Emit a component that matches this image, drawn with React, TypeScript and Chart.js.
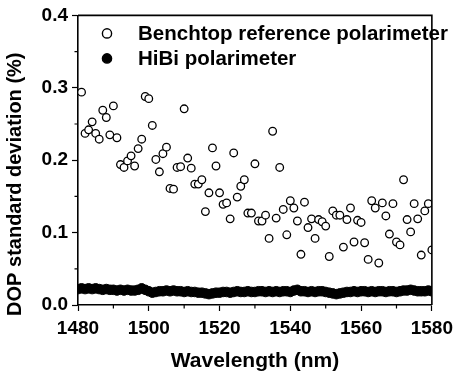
import React, { useEffect, useRef } from "react";
import { Chart, registerables } from "chart.js";

Chart.register(...registerables);

// Benchtop reference polarimeter (open circles)
const BENCH_WL = [
  1481, 1482, 1483, 1484, 1485, 1486, 1487, 1488, 1489, 1490,
  1491, 1492, 1493, 1494, 1495, 1496, 1497, 1498, 1499, 1500,
  1501, 1502, 1503, 1504, 1505, 1506, 1507, 1508, 1509, 1510,
  1511, 1512, 1513, 1514, 1515, 1516, 1517, 1518, 1519, 1520,
  1521, 1522, 1523, 1524, 1525, 1526, 1527, 1528, 1529, 1530,
  1531, 1532, 1533, 1534, 1535, 1536, 1537, 1538, 1539, 1540,
  1541, 1542, 1543, 1544, 1545, 1546, 1547, 1548, 1549, 1550,
  1551, 1552, 1553, 1554, 1555, 1556, 1557, 1558, 1559, 1560,
  1561, 1562, 1563, 1564, 1565, 1566, 1567, 1568, 1569, 1570,
  1571, 1572, 1573, 1574, 1575, 1576, 1577, 1578, 1579, 1580,
];
const BENCH_STD = [
  0.294, 0.237, 0.242, 0.253, 0.237, 0.229, 0.269, 0.259, 0.235, 0.275,
  0.231, 0.194, 0.190, 0.199, 0.206, 0.192, 0.216, 0.229, 0.288, 0.285,
  0.248, 0.201, 0.184, 0.209, 0.218, 0.161, 0.160, 0.190, 0.191, 0.271,
  0.203, 0.189, 0.167, 0.167, 0.173, 0.129, 0.155, 0.217, 0.192, 0.155,
  0.139, 0.141, 0.119, 0.210, 0.149, 0.164, 0.173, 0.127, 0.127, 0.195,
  0.116, 0.116, 0.124, 0.092, 0.240, 0.120, 0.190, 0.132, 0.097, 0.144,
  0.134, 0.116, 0.070, 0.142, 0.107, 0.119, 0.092, 0.118, 0.115, 0.109,
  0.067, 0.130, 0.124, 0.124, 0.080, 0.118, 0.134, 0.087, 0.117, 0.114,
  0.086, 0.063, 0.144, 0.134, 0.058, 0.141, 0.123, 0.098, 0.140, 0.087,
  0.083, 0.173, 0.118, 0.101, 0.140, 0.119, 0.069, 0.130, 0.140, 0.076,
];

// HiBi polarimeter (filled circles)
const HIBI_WL = [
  1480, 1481, 1482, 1483, 1484, 1485, 1486, 1487, 1488, 1489,
  1490, 1491, 1492, 1493, 1494, 1495, 1496, 1497, 1498, 1499,
  1500, 1501, 1502, 1503, 1504, 1505, 1506, 1507, 1508, 1509,
  1510, 1511, 1512, 1513, 1514, 1515, 1516, 1517, 1518, 1519,
  1520, 1521, 1522, 1523, 1524, 1525, 1526, 1527, 1528, 1529,
  1530, 1531, 1532, 1533, 1534, 1535, 1536, 1537, 1538, 1539,
  1540, 1541, 1542, 1543, 1544, 1545, 1546, 1547, 1548, 1549,
  1550, 1551, 1552, 1553, 1554, 1555, 1556, 1557, 1558, 1559,
  1560, 1561, 1562, 1563, 1564, 1565, 1566, 1567, 1568, 1569,
  1570, 1571, 1572, 1573, 1574, 1575, 1576, 1577, 1578, 1579,
  1580,
];
const HIBI_STD = [
  0.022, 0.023, 0.022, 0.023, 0.022, 0.023, 0.022, 0.021, 0.022, 0.021,
  0.021, 0.020, 0.021, 0.020, 0.021, 0.020, 0.020, 0.021, 0.023, 0.021,
  0.019, 0.017, 0.018, 0.019, 0.019, 0.020, 0.019, 0.020, 0.019, 0.019,
  0.018, 0.019, 0.018, 0.018, 0.017, 0.017, 0.016, 0.015, 0.016, 0.017,
  0.017, 0.018, 0.018, 0.017, 0.018, 0.019, 0.018, 0.018, 0.019, 0.018,
  0.018, 0.019, 0.019, 0.018, 0.019, 0.018, 0.019, 0.018, 0.019, 0.019,
  0.018, 0.020, 0.021, 0.019, 0.019, 0.018, 0.019, 0.018, 0.019, 0.019,
  0.018, 0.017, 0.016, 0.015, 0.016, 0.017, 0.018, 0.018, 0.019, 0.018,
  0.019, 0.019, 0.018, 0.019, 0.018, 0.019, 0.019, 0.018, 0.019, 0.019,
  0.018, 0.019, 0.020, 0.020, 0.021, 0.020, 0.019, 0.019, 0.019, 0.020,
  0.019,
];

const SERIES_LABELS = ["Benchtop reference polarimeter", "HiBi polarimeter"];
const X_MIN = 1480;
const X_MAX = 1580;
const X_MINOR = [1490, 1510, 1530, 1550, 1570];
const Y_MIN = 0;
const Y_MAX = 0.4;
const Y_MINOR = [0.05, 0.15, 0.25, 0.35];
const X_TITLE = "Wavelength (nm)";
const Y_TITLE = "DOP standard deviation (%)";

const FONT = "'Liberation Sans', Arial, sans-serif";

const framePlugin = {
  id: "frameAndMinor",
  afterDraw(chart: any) {
    const { ctx, chartArea, scales } = chart;
    const { left, right, top, bottom } = chartArea;
    ctx.save();
    ctx.strokeStyle = "#000";
    ctx.lineWidth = 1.6;
    ctx.beginPath();
    ctx.moveTo(left, top);
    ctx.lineTo(right, top);
    ctx.lineTo(right, bottom);
    ctx.stroke();
    ctx.lineWidth = 1.2;
    ctx.beginPath();
    X_MINOR.forEach((v) => {
      const px = scales.x.getPixelForValue(v);
      ctx.moveTo(px, bottom);
      ctx.lineTo(px, bottom + 3.5);
    });
    Y_MINOR.forEach((v) => {
      const py = scales.y.getPixelForValue(v);
      ctx.moveTo(left, py);
      ctx.lineTo(left - 3.5, py);
    });
    ctx.stroke();

    // y-axis title
    ctx.save();
    ctx.font = `bold 20px ${FONT}`;
    ctx.fillStyle = "#000";
    ctx.textAlign = "center";
    ctx.textBaseline = "middle";
    ctx.translate(15, (top + bottom) / 2 + 24);
    ctx.rotate(-Math.PI / 2);
    ctx.fillText(Y_TITLE, 0, 0);
    ctx.restore();

    // legend
    const items = chart.data.datasets;
    ctx.font = `bold 20.5px ${FONT}`;
    ctx.textBaseline = "middle";
    ctx.textAlign = "left";
    items.forEach((ds: any, i: number) => {
      const cy = top + 18 + i * 25;
      const cx = left + 29;
      ctx.beginPath();
      ctx.arc(cx, cy, 4.6, 0, Math.PI * 2);
      ctx.fillStyle = ds.backgroundColor;
      ctx.fill();
      ctx.lineWidth = 1.4;
      ctx.strokeStyle = "#000";
      ctx.stroke();
      ctx.fillStyle = "#000";
      ctx.fillText(ds.label, left + 60, cy + 1);
    });
    ctx.restore();
  },
};

export default function App() {
  const ref = useRef<HTMLCanvasElement | null>(null);
  useEffect(() => {
    if (!ref.current) return;
    const chart = new Chart(ref.current, {
      type: "scatter",
      data: {
        datasets: [
          {
            label: SERIES_LABELS[0],
            data: BENCH_WL.map((x, i) => ({ x, y: BENCH_STD[i] })),
            pointRadius: 3.8,
            pointBorderWidth: 1.3,
            borderColor: "#000",
            backgroundColor: "#fff",
          },
          {
            label: SERIES_LABELS[1],
            data: HIBI_WL.map((x, i) => ({ x, y: HIBI_STD[i] })),
            pointRadius: 4.8,
            pointBorderWidth: 1,
            borderColor: "#000",
            backgroundColor: "#000",
          },
        ],
      },
      options: {
        animation: false,
        responsive: true,
        maintainAspectRatio: false,
        layout: { padding: { top: 15, right: 26, left: 0, bottom: 0 } },
        plugins: {
          legend: { display: false },
          tooltip: { enabled: false },
        },
        scales: {
          x: {
            type: "linear",
            min: X_MIN,
            max: X_MAX,
            afterFit: (s: any) => {
              s.height = 72;
            },
            border: { display: true, color: "#000", width: 1.6 },
            grid: {
              drawOnChartArea: false,
              drawTicks: true,
              tickLength: 6,
              tickWidth: 1.2,
              tickColor: "#000",
            },
            ticks: {
              stepSize: 20,
              color: "#000",
              padding: 6,
              maxRotation: 0,
              font: { family: FONT, size: 19, weight: "bold" },
              callback: (v: any) => String(v),
            },
            title: {
              display: true,
              text: X_TITLE,
              color: "#000",
              font: { family: FONT, size: 21, weight: "bold" },
              padding: { top: 0, bottom: 3 },
            },
          },
          y: {
            type: "linear",
            min: Y_MIN,
            max: Y_MAX,
            afterFit: (s: any) => {
              s.width = 78;
            },
            border: { display: true, color: "#000", width: 1.6 },
            grid: {
              drawOnChartArea: false,
              drawTicks: true,
              tickLength: 6,
              tickWidth: 1.2,
              tickColor: "#000",
            },
            ticks: {
              stepSize: 0.1,
              color: "#000",
              padding: 4,
              font: { family: FONT, size: 19, weight: "bold" },
              callback: (v: any) => Number(v).toFixed(1),
            },
            title: { display: false },
          },
        },
      },
      plugins: [framePlugin],
    });
    return () => chart.destroy();
  }, []);
  return (
    <div style={{ position: "fixed", left: 0, top: 0, width: 459, height: 377, background: "#fff" }}>
      <canvas ref={ref} />
    </div>
  );
}
